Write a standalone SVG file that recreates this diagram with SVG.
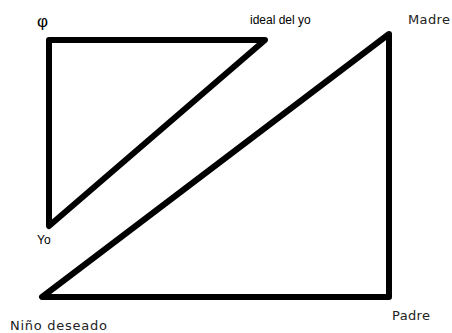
<svg xmlns="http://www.w3.org/2000/svg" width="452" height="333" viewBox="0 0 452 333">
<style>
.e{fill:none;stroke:#000;stroke-width:6;stroke-linecap:round;stroke-linejoin:round}
text{font-family:"Liberation Sans",Arial,sans-serif;fill:#000}
.t{font-size:12px}
.s{font-size:13px;font-family:"DejaVu Sans",sans-serif;fill:#222}
</style>
<rect width="452" height="333" fill="#fff"/>
<g id="connectors">
<path class="e" d="M49,226 L49,40 L265,40 Z"/>
<path class="e" d="M42,297 L389,297 L389,34 Z"/>
</g>
<g id="phi"><text x="37" y="27" style="font-size:17px">φ</text></g>
<g id="ideal"><text class="t" x="250" y="24">ideal del yo</text></g>
<g id="madre"><text class="s" x="408" y="24" textLength="42">Madre</text></g>
<g id="yo"><text class="t" x="37" y="244">Yo</text></g>
<g id="nino"><text class="s" x="10" y="330" textLength="97">Niño deseado</text></g>
<g id="padre"><text class="s" x="392" y="320" textLength="38">Padre</text></g>
</svg>
